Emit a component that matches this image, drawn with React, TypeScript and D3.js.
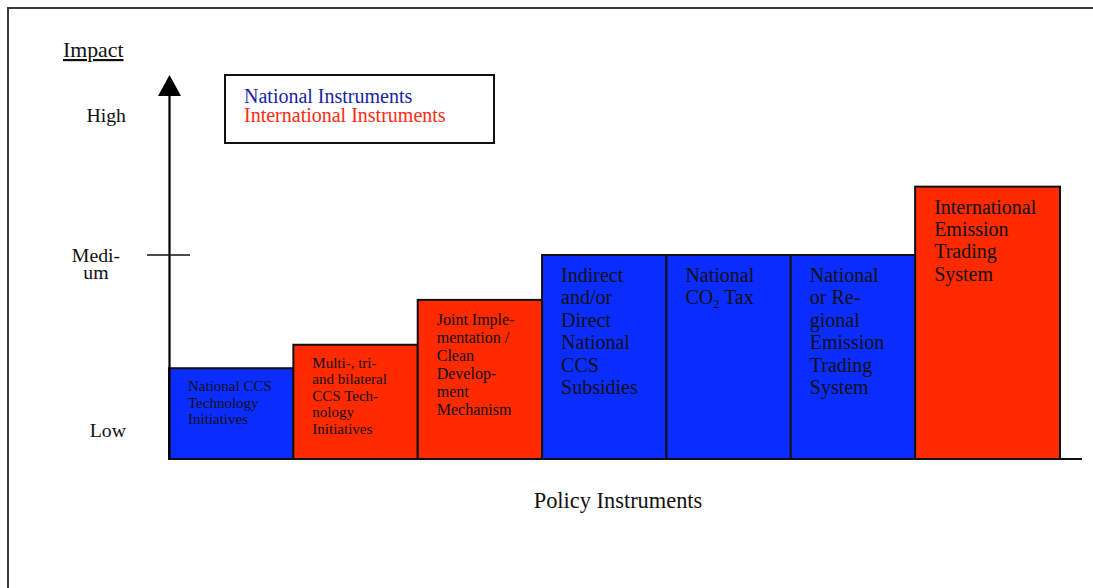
import React from "react";
import * as d3 from "d3";

// ---- data ----
const instruments: string[][] = [
  ["National CCS", "Technology", "Initiatives"],
  ["Multi-, tri-", "and bilateral", "CCS Tech-", "nology", "Initiatives"],
  ["Joint Imple-", "mentation /", "Clean", "Develop-", "ment", "Mechanism"],
  ["Indirect", "and/or", "Direct", "National", "CCS", "Subsidies"],
  ["National", "CO\u2082 Tax"],
  ["National", "or Re-", "gional", "Emission", "Trading", "System"],
  ["International", "Emission", "Trading", "System"],
];
const instrumentType: string[] = ["National", "International", "International", "National", "National", "National", "International"];
const impactValues: number[] = [0.89, 1.12, 1.56, 2.0, 2.0, 2.0, 2.67];
const barWidths: number[] = [1, 1, 1, 1, 1, 1, 1.165];
const tickLabels: string[] = ["Low", "Medium", "High"];
const tickValues: number[] = [0.27, 2, 3.36];
const legendLabels: string[] = ["National Instruments", "International Instruments"];
const axisTitleY = "Impact";
const axisTitleX = "Policy Instruments";

const FONT = "'Liberation Serif', 'Times New Roman', serif";
const fillColor: Record<string, string> = { National: "#0b2cff", International: "#ff2a00" };
const legendColor: Record<string, string> = { National: "#1a1fa6", International: "#ff2a10" };

export default function App() {
  const baseY = 459;
  const y = d3.scaleLinear().domain([0, 4]).range([baseY, 51]);
  const total = d3.sum(barWidths);
  const x = d3.scaleLinear().domain([0, total]).range([169, 1060]);
  const starts = barWidths.map((_, i) => d3.sum(barWidths.slice(0, i)));
  const axisTop = y(3.765);

  const labelStyle = (i: number) => {
    if (i <= 1) return { size: 15, lh: 16.5, dy: 23 };
    if (i === 2) return { size: 16, lh: 18, dy: 25 };
    return { size: 20, lh: 22.4, dy: 27 };
  };

  const renderLine = (line: string, size: number) => {
    if (line.includes("\u2082")) {
      const [a, b] = line.split("\u2082");
      return (
        <>
          {a}
          <tspan fontSize={size * 0.62} dy={4}>2</tspan>
          <tspan dy={-4}>{b}</tspan>
        </>
      );
    }
    return line;
  };

  return (
    <svg width={1093} height={588} style={{ position: "absolute", left: 0, top: 0, background: "#fff" }} fontFamily={FONT}>
      {/* frame */}
      <rect x={8} y={8} width={1300} height={1000} fill="none" stroke="#3a3a3a" strokeWidth={2} />

      {/* axis title */}
      <text x={63} y={57} fontSize={21.8} fill="#111" textDecoration="underline">{axisTitleY}</text>

      {/* legend */}
      <rect x={225} y={75} width={269} height={68} fill="#fff" stroke="#111" strokeWidth={2} />
      {legendLabels.map((l, i) => (
        <text key={l} x={244} y={102.5 + i * 19.3} fontSize={20} fill={legendColor[i === 0 ? "National" : "International"]}>{l}</text>
      ))}

      {/* bars */}
      {impactValues.map((v, i) => {
        const x0 = x(starts[i]);
        const x1 = x(starts[i] + barWidths[i]);
        const top = y(v);
        const st = labelStyle(i);
        return (
          <g key={i}>
            <rect x={x0} y={top} width={x1 - x0} height={baseY - top} fill={fillColor[instrumentType[i]]} stroke="#111" strokeWidth={2} />
            <text fontSize={st.size} fill="#111">
              {instruments[i].map((line, j) => (
                <tspan key={j} x={x0 + 19} y={top + st.dy + j * st.lh}>{renderLine(line, st.size)}</tspan>
              ))}
            </text>
          </g>
        );
      })}

      {/* baseline */}
      <line x1={168} x2={1082} y1={baseY} y2={baseY} stroke="#111" strokeWidth={2} />
      {/* y axis with arrow */}
      <line x1={169.5} x2={169.5} y1={baseY} y2={axisTop + 20} stroke="#000" strokeWidth={2.2} />
      <path d={`M158,${axisTop + 21} L169.5,${axisTop} L181,${axisTop + 21} Z`} fill="#000" />
      {/* medium tick */}
      <line x1={147} x2={190} y1={y(2)} y2={y(2)} stroke="#111" strokeWidth={1.6} />

      {/* tick labels */}
      {tickLabels.map((t, i) => {
        const yy = y(tickValues[i]);
        if (t === "Medium") {
          return (
            <text key={t} fontSize={19.8} fill="#111" textAnchor="middle">
              <tspan x={96} y={yy + 7}>Medi-</tspan>
              <tspan x={96} y={yy + 24}>um</tspan>
            </text>
          );
        }
        return (
          <text key={t} x={126} y={yy + 6} fontSize={19.8} fill="#111" textAnchor="end">{t}</text>
        );
      })}

      {/* x axis title */}
      <text x={618} y={508} fontSize={22.4} fill="#111" textAnchor="middle">{axisTitleX}</text>
    </svg>
  );
}
